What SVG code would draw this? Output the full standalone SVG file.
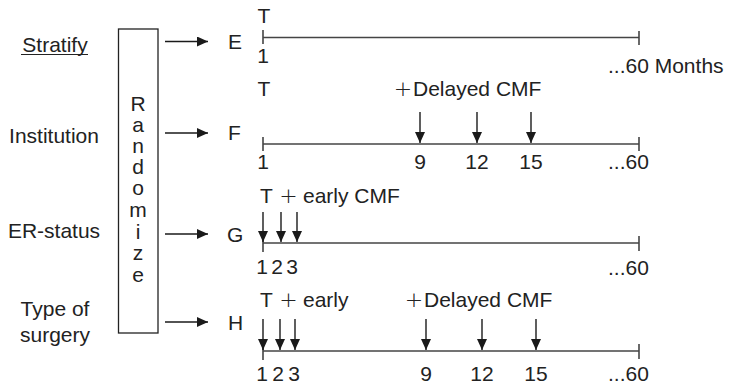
<svg xmlns="http://www.w3.org/2000/svg" width="732" height="388" viewBox="0 0 732 388">
<defs>
<marker id="ah" markerUnits="userSpaceOnUse" markerWidth="12" markerHeight="11" refX="11" refY="5" orient="auto">
<path d="M0,0 L11,5 L0,10 z" fill="#1a1a1a"/>
</marker>
</defs>
<style>
text{font-family:"Liberation Sans",Arial,sans-serif;font-size:21px;fill:#222}
.mid{text-anchor:middle}
.plus{font-family:"DejaVu Sans",sans-serif;font-size:22px;font-weight:200;text-anchor:middle}
.tl{stroke:#444;stroke-width:1.6;fill:none}
.ar{stroke:#1a1a1a;stroke-width:1.4;fill:none;marker-end:url(#ah)}
</style>
<rect width="732" height="388" fill="#fff"/>

<g id="strata">
<text x="55" y="52" class="mid">Stratify</text>
<line x1="21" y1="54.5" x2="88" y2="54.5" stroke="#222" stroke-width="1.2"/>
<text x="54" y="143" class="mid">Institution</text>
<text x="54" y="238" class="mid">ER-status</text>
<text x="55" y="316" class="mid">Type of</text>
<text x="55" y="342" class="mid">surgery</text>
</g>

<g id="randomize">
<rect x="118.5" y="29" width="39.5" height="304" fill="none" stroke="#222" stroke-width="1.3"/>
<text x="138" y="111" class="mid">R</text>
<text x="138" y="132" class="mid">a</text>
<text x="138" y="153" class="mid">n</text>
<text x="138" y="174" class="mid">d</text>
<text x="138" y="195" class="mid">o</text>
<text x="138" y="217" class="mid">m</text>
<text x="138" y="239" class="mid">i</text>
<text x="138" y="260" class="mid">z</text>
<text x="138" y="282" class="mid">e</text>
</g>

<g id="armE">
<text x="228" y="49">E</text>
<line class="tl" x1="263" y1="37.5" x2="639" y2="37.5"/>
<line class="tl" x1="263" y1="30" x2="263" y2="44"/>
<line class="tl" x1="639" y1="31" x2="639" y2="45"/>
<text x="264" y="23" class="mid">T</text>
<text x="263" y="63" class="mid">1</text>
<text x="608" y="73">...60 Months</text>
</g>

<g id="armF">
<text x="228" y="140">F</text>
<line class="tl" x1="263" y1="144" x2="639" y2="144"/>
<line class="tl" x1="263" y1="137" x2="263" y2="151"/>
<line class="tl" x1="639" y1="137" x2="639" y2="151"/>
<text x="264" y="96" class="mid">T</text>
<text x="403" y="96" class="plus">+</text>
<text x="413" y="96">Delayed CMF</text>
<text x="263" y="169" class="mid">1</text>
<text x="420" y="169" class="mid">9</text>
<text x="477" y="169" class="mid">12</text>
<text x="531" y="169" class="mid">15</text>
<text x="608" y="169">...60</text>
</g>

<g id="armG">
<text x="227" y="242">G</text>
<line class="tl" x1="263" y1="243" x2="639" y2="243"/>
<line class="tl" x1="263" y1="236" x2="263" y2="252"/>
<line class="tl" x1="639" y1="236" x2="639" y2="251"/>
<text x="260" y="203">T</text>
<text x="288.5" y="203" class="plus">+</text>
<text x="303" y="203">early CMF</text>
<text x="262" y="274" class="mid">1</text>
<text x="277" y="274" class="mid">2</text>
<text x="292" y="274" class="mid">3</text>
<text x="608" y="275">...60</text>
</g>

<g id="armH">
<text x="228" y="330">H</text>
<line class="tl" x1="263" y1="351" x2="639" y2="351"/>
<line class="tl" x1="263" y1="344" x2="263" y2="360"/>
<line class="tl" x1="639" y1="344" x2="639" y2="359"/>
<text x="260" y="307">T</text>
<text x="288.5" y="307" class="plus">+</text>
<text x="303" y="307">early</text>
<text x="414" y="307" class="plus">+</text>
<text x="424" y="307">Delayed CMF</text>
<text x="262" y="381" class="mid">1</text>
<text x="278" y="381" class="mid">2</text>
<text x="294" y="381" class="mid">3</text>
<text x="426" y="381" class="mid">9</text>
<text x="482" y="381" class="mid">12</text>
<text x="536" y="381" class="mid">15</text>
<text x="608" y="381">...60</text>
</g>

<g id="connectors">
<line class="ar" x1="165" y1="41.5" x2="208" y2="41.5"/>
<line class="ar" x1="165" y1="133" x2="208" y2="133"/>
<line class="ar" x1="165" y1="234" x2="208" y2="234"/>
<line class="ar" x1="165" y1="322" x2="208" y2="322"/>
<line class="ar" x1="420" y1="112" x2="420" y2="143"/>
<line class="ar" x1="477" y1="112" x2="477" y2="143"/>
<line class="ar" x1="531" y1="112" x2="531" y2="143"/>
<line class="ar" x1="263" y1="212" x2="263" y2="242"/>
<line class="ar" x1="281" y1="212" x2="281" y2="242"/>
<line class="ar" x1="297" y1="212" x2="297" y2="242"/>
<line class="ar" x1="263" y1="319" x2="263" y2="350"/>
<line class="ar" x1="280" y1="319" x2="280" y2="350"/>
<line class="ar" x1="295" y1="319" x2="295" y2="350"/>
<line class="ar" x1="426" y1="319" x2="426" y2="350"/>
<line class="ar" x1="482" y1="319" x2="482" y2="350"/>
<line class="ar" x1="536" y1="319" x2="536" y2="350"/>
</g>
</svg>
